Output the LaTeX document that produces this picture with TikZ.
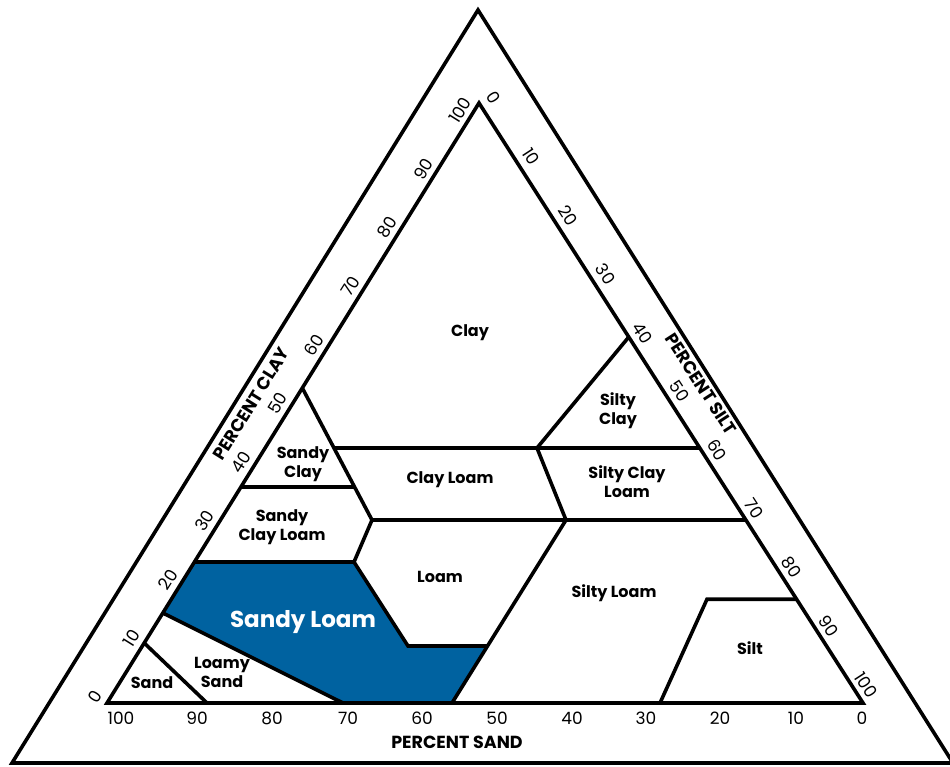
\documentclass[tikz,border=0pt]{standalone}
\usepackage{fontspec}
\setmainfont{Poppins}
\usetikzlibrary{calc}
\definecolor{sandyblue}{RGB}{0,98,160}
\begin{document}
\begin{tikzpicture}[x=1pt,y=-1pt,
  edge/.style={line width=3.6pt,line join=miter},
  region/.style={font=\fontsize{16}{19}\selectfont\bfseries,align=center,inner sep=0pt},
  tick/.style={font=\fontsize{17}{17}\selectfont,inner sep=0pt},
  axislabel/.style={font=\fontsize{17.5}{17.5}\selectfont\bfseries,inner sep=0pt}]
\useasboundingbox (0,0) rectangle (950,766);
% outer triangle
\coordinate (O1) at (478,10);
\coordinate (O2) at (12,763);
\coordinate (O3) at (953,763);
% inner triangle
\coordinate (A) at (107,703);
\coordinate (B) at (863,703);
\coordinate (C) at (479,103);
% points on left edge
\coordinate (L10) at ($(A)!0.10!(C)$);
\coordinate (L15) at ($(A)!0.15!(C)$);
\coordinate (L23) at ($(A)!0.235!(C)$);
\coordinate (L36) at ($(A)!0.36!(C)$);
\coordinate (L52) at ($(A)!0.525!(C)$);
% points on right edge
\coordinate (R17) at ($(B)!0.173!(C)$);
\coordinate (R30) at ($(B)!0.305!(C)$);
\coordinate (R42) at ($(B)!0.425!(C)$);
\coordinate (R61) at ($(B)!0.61!(C)$);
% interior points
\coordinate (P1) at (372,520);
\coordinate (P2) at (354,562);
\coordinate (P3) at (408,646);
\coordinate (P5) at (452,703);
\coordinate (P6) at (566,520);
\coordinate (P7) at (537,448);
\coordinate (P8) at (343,703);
\coordinate (P9) at (207,703);
\coordinate (H0) at (0,448);
\coordinate (H1) at (950,487);
\coordinate (H2) at (950,646);
\coordinate (Q1) at (intersection of L52--P1 and H0--R42);
\coordinate (Q2) at (intersection of L52--P1 and L36--H1);
\coordinate (P4) at (intersection of P6--P5 and P3--H2);
\coordinate (S1) at (660,703);
\coordinate (S2) at (707,599.2);

% Sandy loam fill
\fill[sandyblue] (L23) -- (P2) -- (P3) -- (P4) -- (P5) -- (P8) -- (L15) -- cycle;

% triangles
\draw[edge] (O1) -- (O2) -- (O3) -- cycle;
\draw[edge] (A) -- (B) -- (C) -- cycle;

% boundaries
\draw[edge] (L10) -- (P9);
\draw[edge] (L15) -- (P8);
\draw[edge] (L23) -- (P2) -- (P3) -- (P4);
\draw[edge] (L36) -- (Q2);
\draw[edge] (L52) -- (P1) -- (P2);
\draw[edge] (Q1) -- (R42);
\draw[edge] (P1) -- (R30);
\draw[edge] (R61) -- (P7) -- (P6) -- (P5);
\draw[edge] (S1) -- (S2) -- (R17);

% region labels
\node[region] (clay) at (470,333) {Clay};
\node[region] (siltyclay) at (618,411) {Silty\\Clay};
\node[region] (sandyclay) at (303,464) {Sandy\\Clay};
\node[region] (clayloam) at (450,480) {Clay Loam};
\node[region] (siltyclayloam) at (627,482) {Silty Clay\\Loam};
\node[region] (sandyclayloam) at (282,527) {Sandy\\Clay Loam};
\node[region] (loam) at (440,577) {Loam};
\node[region,text=white,font=\fontsize{23}{23}\selectfont\bfseries] (sandyloam) at (303,622) {Sandy Loam};
\node[region] (siltyloam) at (614,593) {Silty Loam};
\node[region] (silt) at (750,648) {Silt};
\node[region] (loamysand) at (222,672) {Loamy\\Sand};
\node[region] (sand) at (152,683) {Sand};

% tick labels
\foreach \i in {0,...,10} {
  \pgfmathtruncatemacro\v{10*\i}
  \node[tick,rotate=58] (cl\i) at ({95+36.5*\i},{697-58.7*\i}) {\v};
  \node[tick,rotate=-57] (si\i) at ({494+37.2*\i},{98+58.7*\i}) {\v};
}
\foreach \v/\x in {100/121,90/197,80/272,70/348,60/422,50/497,40/572,30/646,20/720,10/796,0/862} {
  \node[tick] (sa\v) at (\x,718) {\v};
}

% axis labels
\node[axislabel,rotate=58] (pclay) at (251,404) {PERCENT CLAY};
\node[axislabel,rotate=-57] (psilt) at (701,384) {PERCENT SILT};
\node[axislabel] (psand) at (457,742) {PERCENT SAND};
\end{tikzpicture}
\end{document}
